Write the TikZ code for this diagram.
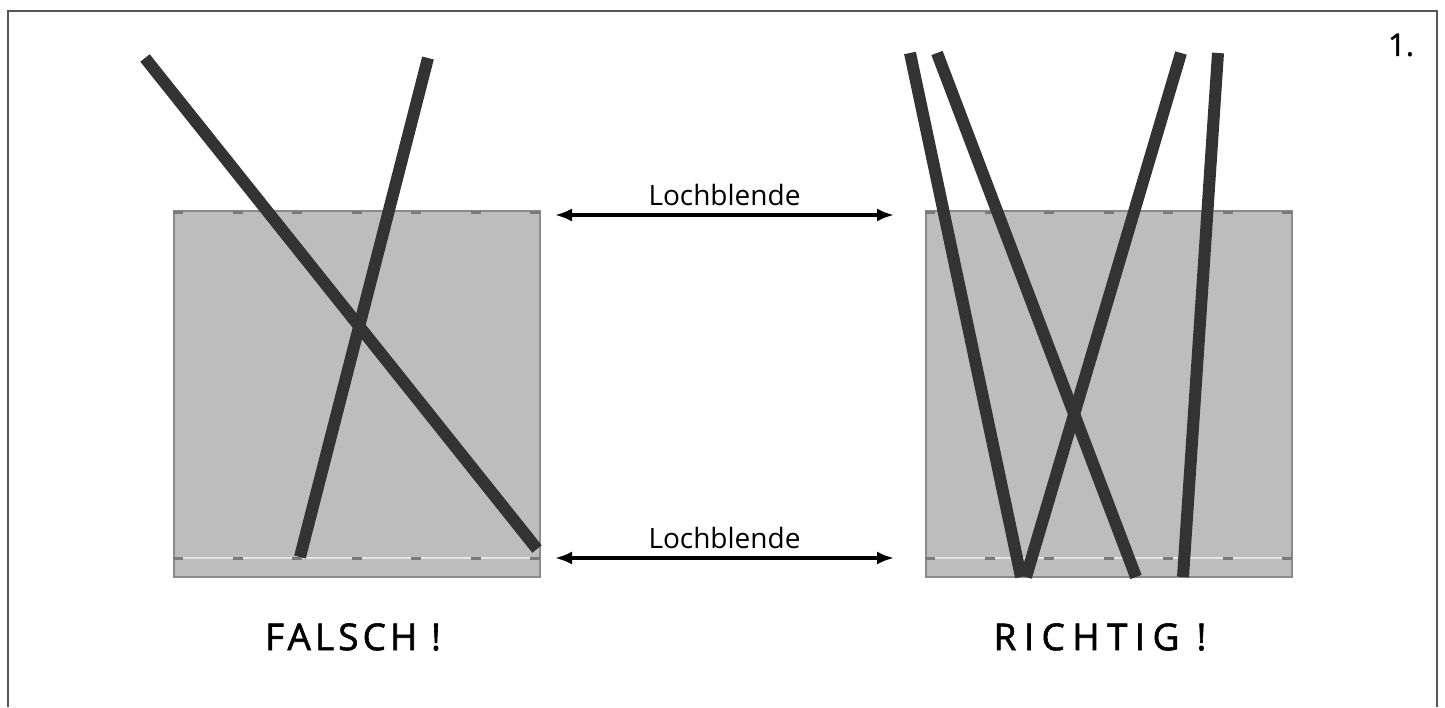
\documentclass[tikz,border=0pt]{standalone}
\usepackage{fontspec}
\setmainfont{Open Sans}
\usepackage{xcolor}
\usetikzlibrary{arrows.meta}
\definecolor{PlateGray}{HTML}{BDBDBD}
\definecolor{PlateEdge}{HTML}{8A8A8A}
\definecolor{TickGray}{HTML}{7A7A7A}
\definecolor{SlitLight}{HTML}{E4E4E4}
\definecolor{BeamDark}{HTML}{333333}
\definecolor{FrameGray}{HTML}{555555}

\begin{document}
\begin{tikzpicture}[x=1pt,y=-1pt,
    plate/.style={fill=PlateGray,draw=PlateEdge,line width=1.5pt},
    beam/.style={draw=BeamDark,line width=12pt},
    gap/.style={{Latex[length=17pt,width=13pt]}-{Latex[length=17pt,width=13pt]},line width=3.2pt},
    tag/.style={font=\fontsize{28}{32}\selectfont},
    verdict/.style={font=\fontsize{37}{42}\selectfont\addfontfeature{LetterSpace=#1,FakeBold=1.6}},
    verdict/.default=11]
  \def\plateW{366}\def\plateTop{211}\def\plateBot{577}\def\slitY{558}
  \useasboundingbox (0,0) rectangle (1445,707);
  \draw[FrameGray,line width=1.8pt] (8,707) -- (8,11) -- (1437,11) -- (1437,707);
  % two plates with the pinholes
  \foreach \px in {174,926} {
    \draw[plate] (\px,\plateTop) rectangle ++(\plateW,\plateBot-\plateTop);
    \draw[SlitLight,line width=2pt] (\px,\slitY) -- ++(\plateW,0);
    \foreach \k in {0,...,6} {
      \draw[TickGray,line width=3pt] ({\px+4+\k*59.5-5},\plateTop+1) -- ++(10,0);
      \draw[TickGray,line width=3pt] ({\px+4+\k*59.5-5},\slitY) -- ++(10,0);
    }
  }
  % beams, left
  \draw[beam] (145,58) -- (537,549);
  \draw[beam] (428,58) -- (300,557);
  % beams, right
  \draw[beam] (910,53) -- (1021,577);
  \draw[beam] (937,53) -- (1136,577);
  \draw[beam] (1181,53) -- (1026,577);
  \draw[beam] (1218,53) -- (1183,577);
  % arrows
  \coordinate (topL) at (555,215);
  \coordinate (topR) at (894,215);
  \coordinate (botL) at (555,558);
  \coordinate (botR) at (894,558);
  \draw[gap] (topL) -- node[tag,above=4pt] {Lochblende} (topR);
  \draw[gap] (botL) -- node[tag,above=4pt] {Lochblende} (botR);
  \node[verdict] (falsch) at (353,637) {FALSCH !};
  \node[verdict=20] (richtig) at (1100,637) {RICHTIG !};
  \node[font=\fontsize{31}{36}\selectfont\addfontfeature{FakeBold=1.2}] (nr) at (1401,45) {1.};
\end{tikzpicture}
\end{document}
